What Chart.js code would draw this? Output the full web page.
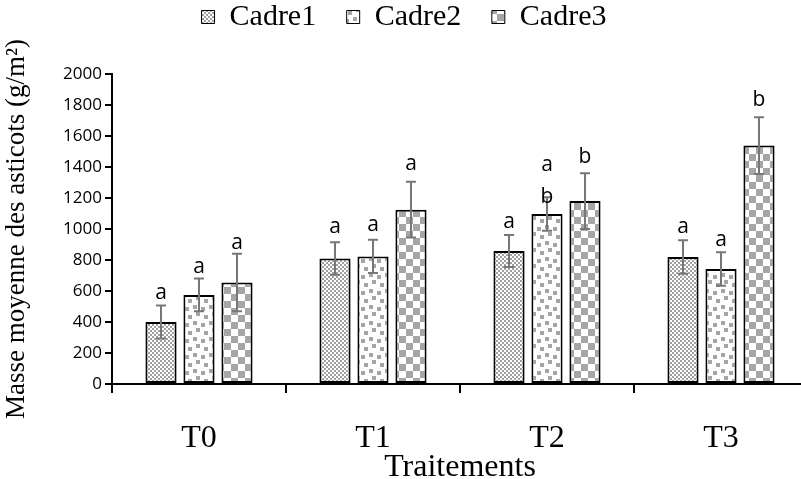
<!DOCTYPE html>
<html><head><meta charset="utf-8">
<script src="https://cdn.jsdelivr.net/npm/chart.js@4.4.1/dist/chart.umd.min.js"></script>
<style>
html,body{margin:0;padding:0;background:#fff;overflow:hidden;width:801px;height:479px;}
#wrap{position:relative;width:812px;height:490px;}
</style></head><body>
<div id="wrap"><canvas id="c" width="812" height="490"></canvas></div>
<script>
// ---- data ----
const categories = ['T0', 'T1', 'T2', 'T3'];
const seriesNames = ['Cadre1', 'Cadre2', 'Cadre3'];
const cadre1 = [400, 810, 858, 820];
const cadre2 = [575, 823, 1097, 742];
const cadre3 = [655, 1125, 1180, 1538];
const err1 = [107, 105, 103, 108];
const err2 = [106, 107, 108, 108];
const err3 = [185, 180, 180, 183];
const letters1 = [['a'], ['a'], ['a'], ['a']];
const letters2 = [['a'], ['a'], ['a', 'b'], ['a']];
const letters3 = [['a'], ['a'], ['b'], ['b']];
const letterY1 = [[548], [974], [1006], [976]];
const letterY2 = [[718], [987], [1374, 1168], [890]];
const letterY3 = [[871], [1381], [1426], [1794]];
const yTicks = [0, 200, 400, 600, 800, 1000, 1200, 1400, 1600, 1800, 2000];
const yTitle = 'Masse moyenne des asticots (g/m²)';
const xTitle = 'Traitements';

// ---- patterns ----
function makePattern(w, h, draw) {
  const c = document.createElement('canvas');
  c.width = w; c.height = h;
  const g = c.getContext('2d');
  g.fillStyle = '#fff'; g.fillRect(0, 0, w, h);
  draw(g);
  return document.getElementById('c').getContext('2d').createPattern(c, 'repeat');
}
const grey = '#a6a6a6';
const pat1 = makePattern(4, 4, g => { g.fillStyle = '#a0a0a0'; g.fillRect(0, 0, 2, 2); g.fillRect(2, 2, 2, 2); });
const pat2 = makePattern(16, 16, g => {
  g.fillStyle = grey;
  g.fillRect(1, 1, 4, 4); g.fillRect(9, 3, 4, 4); g.fillRect(4, 8, 4, 4); g.fillRect(12, 11, 4, 4);
});
const pat3 = makePattern(14, 14, g => { g.fillStyle = grey; g.fillRect(7, 0, 7, 7); g.fillRect(0, 7, 7, 7); });

const serif = '"Liberation Serif","Times New Roman",serif';
const sans = '"Open Sans","Liberation Sans",sans-serif';

const annot = {
  id: 'annot',
  afterDatasetsDraw(chart) {
    const ctx = chart.ctx, ys = chart.scales.y;
    chart.data.datasets.forEach((ds, di) => {
      const meta = chart.getDatasetMeta(di);
      meta.data.forEach((bar, i) => {
        const v = ds.data[i], e = ds.errors[i], x = bar.x;
        const yt = ys.getPixelForValue(v + e), yb = ys.getPixelForValue(v - e);
        ctx.save();
        ctx.strokeStyle = '#777'; ctx.lineWidth = 2;
        ctx.beginPath();
        ctx.moveTo(x, yt); ctx.lineTo(x, yb);
        ctx.moveTo(x - 5, yt); ctx.lineTo(x + 5, yt);
        ctx.moveTo(x - 5, yb); ctx.lineTo(x + 5, yb);
        ctx.stroke();
        ctx.fillStyle = '#000'; ctx.font = '21px ' + sans;
        ctx.textAlign = 'center'; ctx.textBaseline = 'alphabetic';
        ds.letters[i].forEach((t, k) => ctx.fillText(t, x, ys.getPixelForValue(ds.letterY[i][k])));
        ctx.restore();
      });
    });
  }
};

const mk = (label, data, errors, letters, letterY, bg) => ({
  label, data, errors, letters, letterY,
  backgroundColor: bg, borderColor: '#000', borderWidth: 2, borderSkipped: false,
  categoryPercentage: 0.655, barPercentage: 0.82
});

new Chart(document.getElementById('c'), {
  type: 'bar',
  data: {
    labels: categories,
    datasets: [
      mk(seriesNames[0], cadre1, err1, letters1, letterY1, pat1),
      mk(seriesNames[1], cadre2, err2, letters2, letterY2, pat2),
      mk(seriesNames[2], cadre3, err3, letters3, letterY3, pat3)
    ]
  },
  options: {
    responsive: false, animation: false, devicePixelRatio: 1,
    layout: { padding: { top: -6, right: 4, left: 0, bottom: 0 } },
    plugins: {
      tooltip: { enabled: false },
      title: { display: true, text: ' ', weight: 500, font: { size: 10, lineHeight: 1 }, padding: { top: 0, bottom: 22 } },
      legend: {
        position: 'top',
        labels: {
          boxWidth: 13, boxHeight: 13, padding: 8, color: '#000',
          font: { family: serif, size: 30 },
          generateLabels(chart) {
            const items = Chart.defaults.plugins.legend.labels.generateLabels(chart);
            return items.map((it, i) => Object.assign(it, {
              lineWidth: 1,
              text: i < items.length - 1 ? it.text + '   ' : it.text
            }));
          }
        }
      }
    },
    scales: {
      x: {
        grid: { offset: true, drawOnChartArea: false, drawTicks: true, tickLength: 9, color: '#000', lineWidth: 2 },
        border: { color: '#000', width: 2 },
        ticks: { color: '#000', font: { family: serif, size: 32 }, padding: 26 },
        title: { display: true, text: xTitle, color: '#000', font: { family: serif, size: 32 }, padding: { top: 0, bottom: 3 } },
        afterFit(s) { s.height = 106; }
      },
      y: {
        min: 0, max: 2000,
        afterBuildTicks(s) { s.ticks = yTicks.map(v => ({ value: v })); },
        grid: { drawOnChartArea: false, drawTicks: true, tickLength: 7, color: '#000', lineWidth: 2 },
        border: { color: '#000', width: 2 },
        ticks: { color: '#000', font: { family: sans, size: 17 }, padding: 3, callback: v => String(v) },
        title: { display: true, text: yTitle, color: '#000', font: { family: serif, size: 27 }, padding: { top: 1, bottom: 0 } },
        afterFit(s) { s.width = 112; }
      }
    }
  },
  plugins: [annot]
});
</script>
</body></html>
